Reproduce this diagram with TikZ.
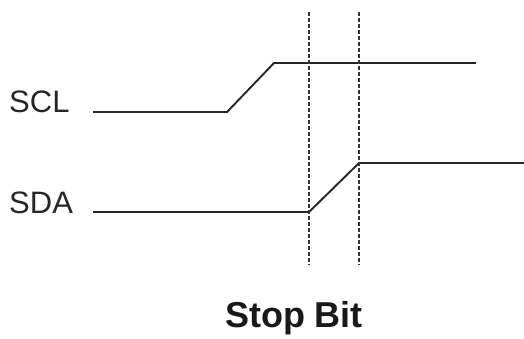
\documentclass[tikz,border=0pt]{standalone}
\usepackage{fontspec}
\setmainfont{Liberation Sans}
\begin{document}
\begin{tikzpicture}[x=1pt,y=-1pt,
  sig/.style={line width=1.9pt,color=black!85},
  guide/.style={line width=1.5pt,color=black!80,dash pattern=on 4pt off 2pt},
  lbl/.style={font=\fontsize{31}{36}\selectfont,anchor=base west,inner sep=0pt,text=black!85}]
\useasboundingbox (0,0) rectangle (524,338);
% labels
\node[lbl] (scl) at (9,112) {SCL};
\node[lbl] (sda) at (9,213) {SDA};
\node[font=\bfseries\fontsize{36}{42}\selectfont,anchor=base,inner sep=0pt,text=black!90] (title) at (294,327) {Stop Bit};
% SCL waveform
\coordinate (c0) at (93,112);
\coordinate (c1) at (227,112);
\coordinate (c2) at (274,63);
\coordinate (c3) at (476,63);
\draw[sig] (c0) -- (c1) -- (c2) -- (c3);
% SDA waveform
\coordinate (d0) at (93,212);
\coordinate (d1) at (309,212);
\coordinate (d2) at (359,163);
\coordinate (d3) at (524,163);
\draw[sig] (d0) -- (d1) -- (d2) -- (d3);
% guides
\coordinate (g1t) at (309,12);
\coordinate (g1b) at (309,265);
\coordinate (g2t) at (359,12);
\coordinate (g2b) at (359,265);
\draw[guide] (g1t) -- (g1b);
\draw[guide] (g2t) -- (g2b);
\end{tikzpicture}
\end{document}
